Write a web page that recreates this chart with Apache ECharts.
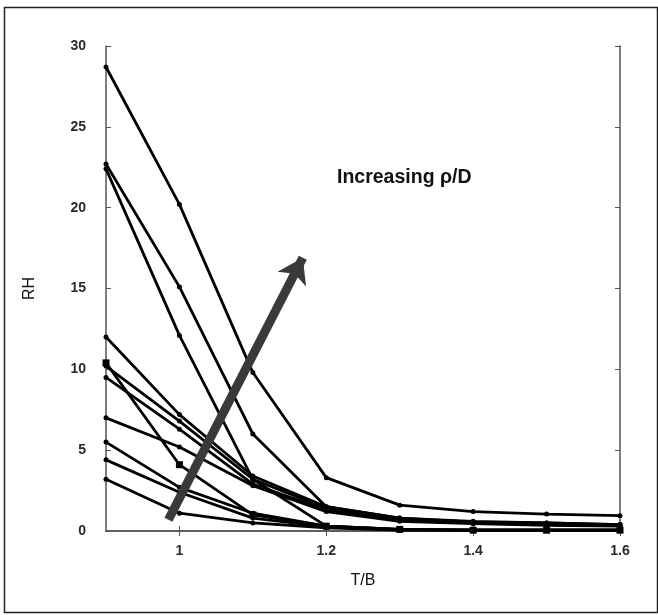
<!DOCTYPE html>
<html>
<head>
<meta charset="utf-8">
<script src="https://cdn.jsdelivr.net/npm/echarts@6/dist/echarts.min.js"></script>
<style>
  html, body { margin: 0; padding: 0; background: #fff; }
  #chart { width: 658px; height: 615px; }
</style>
</head>
<body>
<div id="chart"></div>
<script>
// T/B positions shared by every curve
const tbValues = [0.9, 1.0, 1.1, 1.2, 1.3, 1.4, 1.5, 1.6];

// RH curves (one per rho/D)
const rh1 = [28.7, 20.2, 9.8, 3.3, 1.6, 1.2, 1.05, 0.95];
const rh2 = [22.7, 15.1, 6.0, 1.5, 0.8, 0.55, 0.5, 0.4];
const rh3 = [22.4, 12.1, 3.2, 0.3, 0.1, 0.05, 0.05, 0.05];
const rh4 = [12.0, 7.2, 3.4, 1.5, 0.8, 0.6, 0.5, 0.4];
const rh5 = [10.4, 4.1, 1.0, 0.3, 0.1, 0.05, 0.05, 0.05];
const rh6 = [10.2, 6.8, 3.2, 1.4, 0.75, 0.55, 0.45, 0.35];
const rh7 = [9.5, 6.3, 2.9, 1.3, 0.7, 0.5, 0.4, 0.35];
const rh8 = [7.0, 5.2, 2.8, 1.2, 0.6, 0.45, 0.35, 0.3];
const rh9 = [5.5, 2.7, 1.1, 0.3, 0.1, 0.05, 0.05, 0.05];
const rh10 = [4.4, 2.4, 0.8, 0.25, 0.05, 0.05, 0.05, 0.05];
const rh11 = [3.2, 1.1, 0.5, 0.2, 0.05, 0.05, 0.05, 0.05];
const curves = [rh1, rh2, rh3, rh4, rh5, rh6, rh7, rh8, rh9, rh10, rh11];

// tick labels
const xTicks = [1, 1.2, 1.4, 1.6];
const yTicks = [0, 5, 10, 15, 20, 25, 30];

// "increasing rho/D" arrow, in T/B, RH units
const arrowFrom = [0.985, 0.7];
const arrowTo = [1.168, 16.9];

const chart = echarts.init(document.getElementById('chart'));

const axisLine = { show: true, lineStyle: { color: '#555', width: 1.5 } };
const tickIn = { show: true, inside: true, length: 5, lineStyle: { color: '#555', width: 1 } };
const labelFont = {
  fontFamily: 'Liberation Sans, Arial, sans-serif',
  fontSize: 14,
  fontWeight: 'bold',
  color: '#2a2a2a'
};

let series = curves.map((c, i) => ({
  type: 'line',
  data: c.map((v, j) => [tbValues[j], v]),
  symbol: i === 4 ? 'rect' : 'circle',
  symbolSize: i === 4 ? 7 : 5,
  itemStyle: { color: '#000' },
  lineStyle: { color: '#000', width: 2.8 },
  animation: false,
  z: 3
}));

series.push({
  type: 'lines',
  coordinateSystem: 'cartesian2d',
  data: [{ coords: [arrowFrom, arrowTo] }],
  symbol: ['none', 'arrow'],
  symbolSize: [0, 24],
  lineStyle: { color: '#3a3a3a', width: 9, opacity: 1 },
  animation: false,
  z: 5
});

let option = {
  backgroundColor: '#fff',
  animation: false,
  grid: { left: 106, right: 38, top: 46, bottom: 84 },
  xAxis: [{
    type: 'value',
    min: 0.9,
    max: 1.6,
    name: 'T/B',
    nameLocation: 'middle',
    nameGap: 42,
    nameTextStyle: Object.assign({}, labelFont, { fontSize: 16, fontWeight: 'normal', color: '#111' }),
    axisLine: axisLine,
    axisTick: Object.assign({ customValues: xTicks }, tickIn),
    axisLabel: Object.assign({ customValues: xTicks, margin: 13 }, labelFont),
    splitLine: { show: false }
  }, {
    type: 'value',
    position: 'top',
    min: 0.9,
    max: 1.6,
    axisLine: axisLine,
    axisTick: Object.assign({ customValues: xTicks }, tickIn),
    axisLabel: { show: false },
    splitLine: { show: false }
  }],
  yAxis: [{
    type: 'value',
    min: 0,
    max: 30,
    interval: 5,
    name: 'RH',
    nameLocation: 'middle',
    nameRotate: 90,
    nameGap: 68,
    nameTextStyle: Object.assign({}, labelFont, { fontSize: 16, fontWeight: 'normal', color: '#111' }),
    axisLine: axisLine,
    axisTick: tickIn,
    axisLabel: Object.assign({ margin: 20 }, labelFont),
    splitLine: { show: false }
  }, {
    type: 'value',
    position: 'right',
    min: 0,
    max: 30,
    interval: 5,
    axisLine: axisLine,
    axisTick: tickIn,
    axisLabel: { show: false },
    splitLine: { show: false }
  }],
  graphic: [{
    type: 'rect',
    left: 2,
    top: 5,
    shape: { width: 653, height: 605 },
    style: { fill: 'none', stroke: '#222', lineWidth: 1.5 },
    z: 0
  }, {
    type: 'text',
    left: 337,
    top: 168,
    style: {
      text: 'Increasing \u03c1/D',
      font: 'bold 19.5px "Liberation Sans", Arial, sans-serif',
      fill: '#111'
    },
    z: 10
  }],
  series: series
};

chart.setOption(option, true);
</script>
</body>
</html>
